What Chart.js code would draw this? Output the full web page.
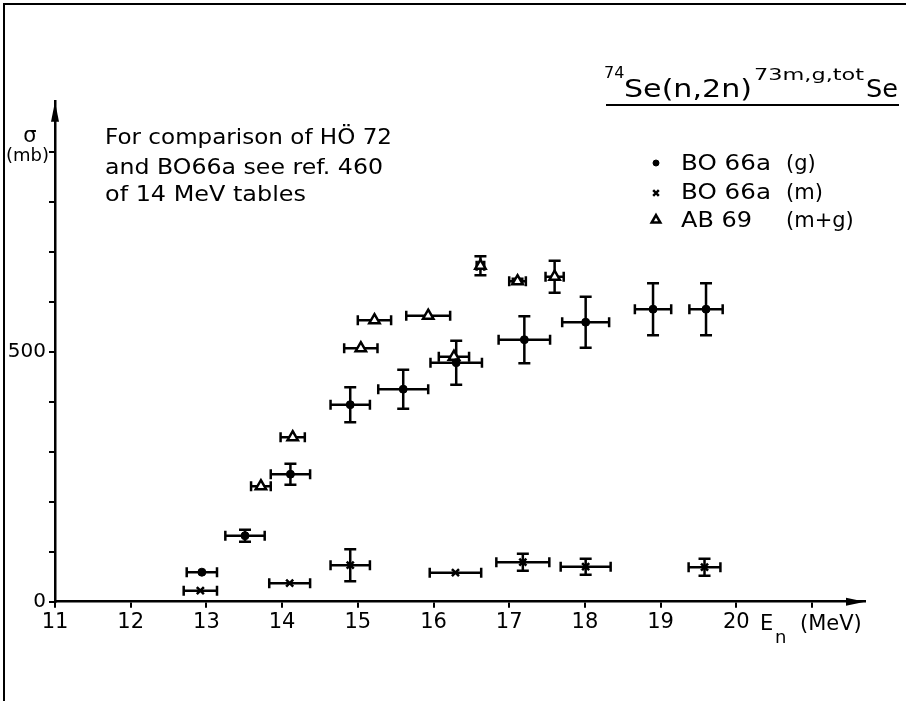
<!DOCTYPE html>
<html>
<head>
<meta charset="utf-8">
<script src="https://cdn.jsdelivr.net/npm/chart.js@4"></script>
<style>
  html, body { margin: 0; padding: 0; background: #fff; }
  #wrap { width: 906px; height: 701px; }
</style>
</head>
<body>
<div id="wrap"><canvas id="canvas" width="906" height="701"></canvas></div>
<script>
// BO 66a (g)
var gE      = [12.94, 13.51, 14.11, 14.90, 15.60, 16.30, 17.20, 18.01, 18.90, 19.60];
var gSig    = [59, 132, 255, 394, 425, 478, 524, 559, 585, 585];
var gEErr   = [0.20, 0.26, 0.26, 0.26, 0.33, 0.34, 0.34, 0.31, 0.24, 0.22];
var gSigErr = [0, 12, 21, 35, 39, 44, 47, 51, 52, 52];

// BO 66a (m)
var mE      = [12.92, 14.10, 14.90, 16.29, 17.18, 18.01, 19.58];
var mSig    = [22, 37, 73, 58, 79, 70, 69];
var mEErr   = [0.22, 0.27, 0.26, 0.34, 0.35, 0.33, 0.21];
var mSigErr = [0, 0, 32, 0, 17, 16, 17];

// AB 69 (m+g)
var abE      = [13.72, 14.14, 15.04, 15.22, 15.93, 16.27, 16.62, 17.11, 17.60];
var abSig    = [231, 329, 507, 563, 572, 490, 672, 641, 650];
var abEErr   = [0.13, 0.16, 0.22, 0.22, 0.29, 0.20, 0.05, 0.11, 0.12];
var abSigErr = [0, 0, 0, 0, 0, 0, 19, 5, 32];

var xTicks = [11, 12, 13, 14, 15, 16, 17, 18, 19, 20, 21];
var xLabels = [11, 12, 13, 14, 15, 16, 17, 18, 19, 20];
var yTicks = [0, 100, 200, 300, 400, 500, 600, 700, 800, 900];
var yLabels = [0, 500];

var legendNames = ['BO 66a', 'BO 66a', 'AB 69'];
var legendTags = ['(g)', '(m)', '(m+g)'];
var noteLines = ['For comparison of H\u00d6 72', 'and BO66a see ref. 460', 'of 14 MeV tables'];

var FONT = '"DejaVu Sans", sans-serif';

function pts(xs, ys, dxs, dys) {
    return xs.map(function(x, i) {
        return { x: x, y: ys[i], dx: dxs[i], dy: dys[i] };
    });
}

// draws the error bars with the chart's scales
var errorBars = {
    id: 'errorBars',
    beforeDatasetsDraw: function(chart) {
        var ctx = chart.ctx, xs = chart.scales.x, ys = chart.scales.y;
        ctx.save();
        ctx.strokeStyle = '#000';
        ctx.lineWidth = 2.5;
        chart.data.datasets.forEach(function(ds) {
            ds.data.forEach(function(p) {
                var cx = xs.getPixelForValue(p.x), cy = ys.getPixelForValue(p.y);
                ctx.beginPath();
                if (p.dx) {
                    var l = xs.getPixelForValue(p.x - p.dx), r = xs.getPixelForValue(p.x + p.dx);
                    ctx.moveTo(l, cy); ctx.lineTo(r, cy);
                    ctx.moveTo(l, cy - 5); ctx.lineTo(l, cy + 5);
                    ctx.moveTo(r, cy - 5); ctx.lineTo(r, cy + 5);
                }
                if (p.dy) {
                    var t = ys.getPixelForValue(p.y + p.dy), b = ys.getPixelForValue(p.y - p.dy);
                    ctx.moveTo(cx, t); ctx.lineTo(cx, b);
                    ctx.moveTo(cx - 6, t); ctx.lineTo(cx + 6, t);
                    ctx.moveTo(cx - 6, b); ctx.lineTo(cx + 6, b);
                }
                ctx.stroke();
            });
        });
        ctx.restore();
    }
};

function fitText(ctx, txt, x, y, w) {
    var m = ctx.measureText(txt).width;
    ctx.save();
    ctx.translate(x, y);
    if (w) ctx.scale(w / m, 1);
    ctx.fillText(txt, 0, 0);
    ctx.restore();
}

// frame, arrows, title, legend, notes
var decor = {
    id: 'decor',
    afterDraw: function(chart) {
        var ctx = chart.ctx, a = chart.chartArea;
        ctx.save();
        ctx.fillStyle = '#000';
        ctx.strokeStyle = '#000';

        // page frame
        ctx.lineWidth = 2;
        ctx.beginPath();
        ctx.moveTo(4, 701); ctx.lineTo(4, 4); ctx.lineTo(906, 4);
        ctx.stroke();

        // axis arrows
        ctx.beginPath();
        ctx.moveTo(a.right, a.bottom);
        ctx.lineTo(a.right - 19, a.bottom - 4);
        ctx.lineTo(a.right - 19, a.bottom + 4);
        ctx.closePath();
        ctx.fill();
        ctx.beginPath();
        ctx.moveTo(a.left, a.top);
        ctx.lineTo(a.left - 4, a.top + 20);
        ctx.lineTo(a.left + 4, a.top + 20);
        ctx.closePath();
        ctx.fill();

        ctx.textBaseline = 'alphabetic';
        ctx.textAlign = 'left';

        // title
        ctx.font = '16px ' + FONT;
        ctx.fillText('74', 604, 78);
        ctx.font = '24px ' + FONT;
        fitText(ctx, 'Se(n,2n)', 624, 97, 128);
        ctx.font = '16px ' + FONT;
        fitText(ctx, '73m,g,tot', 754, 80, 110);
        ctx.font = '24px ' + FONT;
        fitText(ctx, 'Se', 866, 97, 32);
        ctx.lineWidth = 2;
        ctx.beginPath();
        ctx.moveTo(606, 105); ctx.lineTo(899, 105);
        ctx.stroke();

        // y axis label
        ctx.font = '21px ' + FONT;
        ctx.textAlign = 'center';
        ctx.fillText('\u03c3', 30, 142);
        ctx.font = '18px ' + FONT;
        ctx.textAlign = 'left';
        ctx.fillText('(mb)', 6, 161);

        // x axis label
        ctx.font = '21px ' + FONT;
        ctx.fillText('E', 760, 630);
        ctx.font = '18px ' + FONT;
        ctx.fillText('n', 775, 643);
        ctx.font = '21px ' + FONT;
        ctx.fillText('(MeV)', 800, 630);

        // note
        ctx.font = '21px ' + FONT;
        var noteY = [144, 174, 201], noteW = [287, 278, 201];
        noteLines.forEach(function(t, i) { fitText(ctx, t, 105, noteY[i], noteW[i]); });

        // legend
        var legY = [170, 199, 227], legMY = [163, 193, 220];
        var nameW = [90, 90, 71];
        ctx.font = '21px ' + FONT;
        chart.data.datasets.forEach(function(ds, i) {
            ctx.fillStyle = '#000';
            fitText(ctx, legendNames[i], 681, legY[i], nameW[i]);
            ctx.fillText(legendTags[i], 786, legY[i]);
            ctx.fillStyle = ds.backgroundColor;
            ctx.strokeStyle = ds.borderColor;
            ctx.lineWidth = ds.borderWidth;
            Chart.helpers.drawPoint(ctx, {
                pointStyle: ds.pointStyle,
                radius: ds.pointRadius - 1,
                borderWidth: ds.borderWidth,
                rotation: 0
            }, 656, legMY[i]);
        });
        ctx.restore();
    }
};

var ctx = document.getElementById('canvas').getContext('2d');
ctx.canvas.style.width = '906px';
ctx.canvas.style.height = '701px';

window.myChart = new Chart(ctx, {
    type: 'scatter',
    data: {
        datasets: [
        {
            label: 'BO 66a (g)',
            data: pts(gE, gSig, gEErr, gSigErr),
            pointStyle: 'circle',
            pointRadius: 4,
            borderWidth: 1,
            borderColor: '#000',
            backgroundColor: '#000'
        },
        {
            label: 'BO 66a (m)',
            data: pts(mE, mSig, mEErr, mSigErr),
            pointStyle: 'crossRot',
            pointRadius: 5,
            borderWidth: 2.5,
            borderColor: '#000',
            backgroundColor: '#000'
        },
        {
            label: 'AB 69 (m+g)',
            data: pts(abE, abSig, abEErr, abSigErr),
            pointStyle: 'triangle',
            pointRadius: 6,
            borderWidth: 2.5,
            borderColor: '#000',
            backgroundColor: '#fff'
        }
        ]
    },
    options: {
        responsive: false,
        animation: false,
        layout: { padding: { top: 101.7, right: 41, left: 0, bottom: 0 } },
        plugins: {
            legend: { display: false },
            tooltip: { enabled: false }
        },
        scales: {
            x: {
                type: 'linear',
                min: 11,
                max: 21.7,
                afterBuildTicks: function(s) { s.ticks = xTicks.map(function(v) { return { value: v }; }); },
                afterFit: function(s) { s.height = 99.3; },
                ticks: {
                    autoSkip: false,
                    maxRotation: 0,
                    padding: 2,
                    color: '#000',
                    font: { family: FONT, size: 21 },
                    callback: function(v) { return xLabels.indexOf(v) >= 0 ? String(v) : ''; }
                },
                grid: { drawOnChartArea: false, tickLength: 6, color: '#000', lineWidth: 2 },
                border: { color: '#000', width: 2.5 }
            },
            y: {
                type: 'linear',
                min: 0,
                max: 1000,
                afterBuildTicks: function(s) { s.ticks = yTicks.map(function(v) { return { value: v }; }); },
                afterFit: function(s) { s.width = 55; },
                ticks: {
                    padding: 3,
                    color: '#000',
                    font: { family: FONT, size: 20 },
                    callback: function(v) { return yLabels.indexOf(v) >= 0 ? String(v) : ''; }
                },
                grid: { drawOnChartArea: false, tickLength: 6, color: '#000', lineWidth: 2 },
                border: { color: '#000', width: 2.5 }
            }
        }
    },
    plugins: [errorBars, decor]
});
</script>
</body>
</html>
